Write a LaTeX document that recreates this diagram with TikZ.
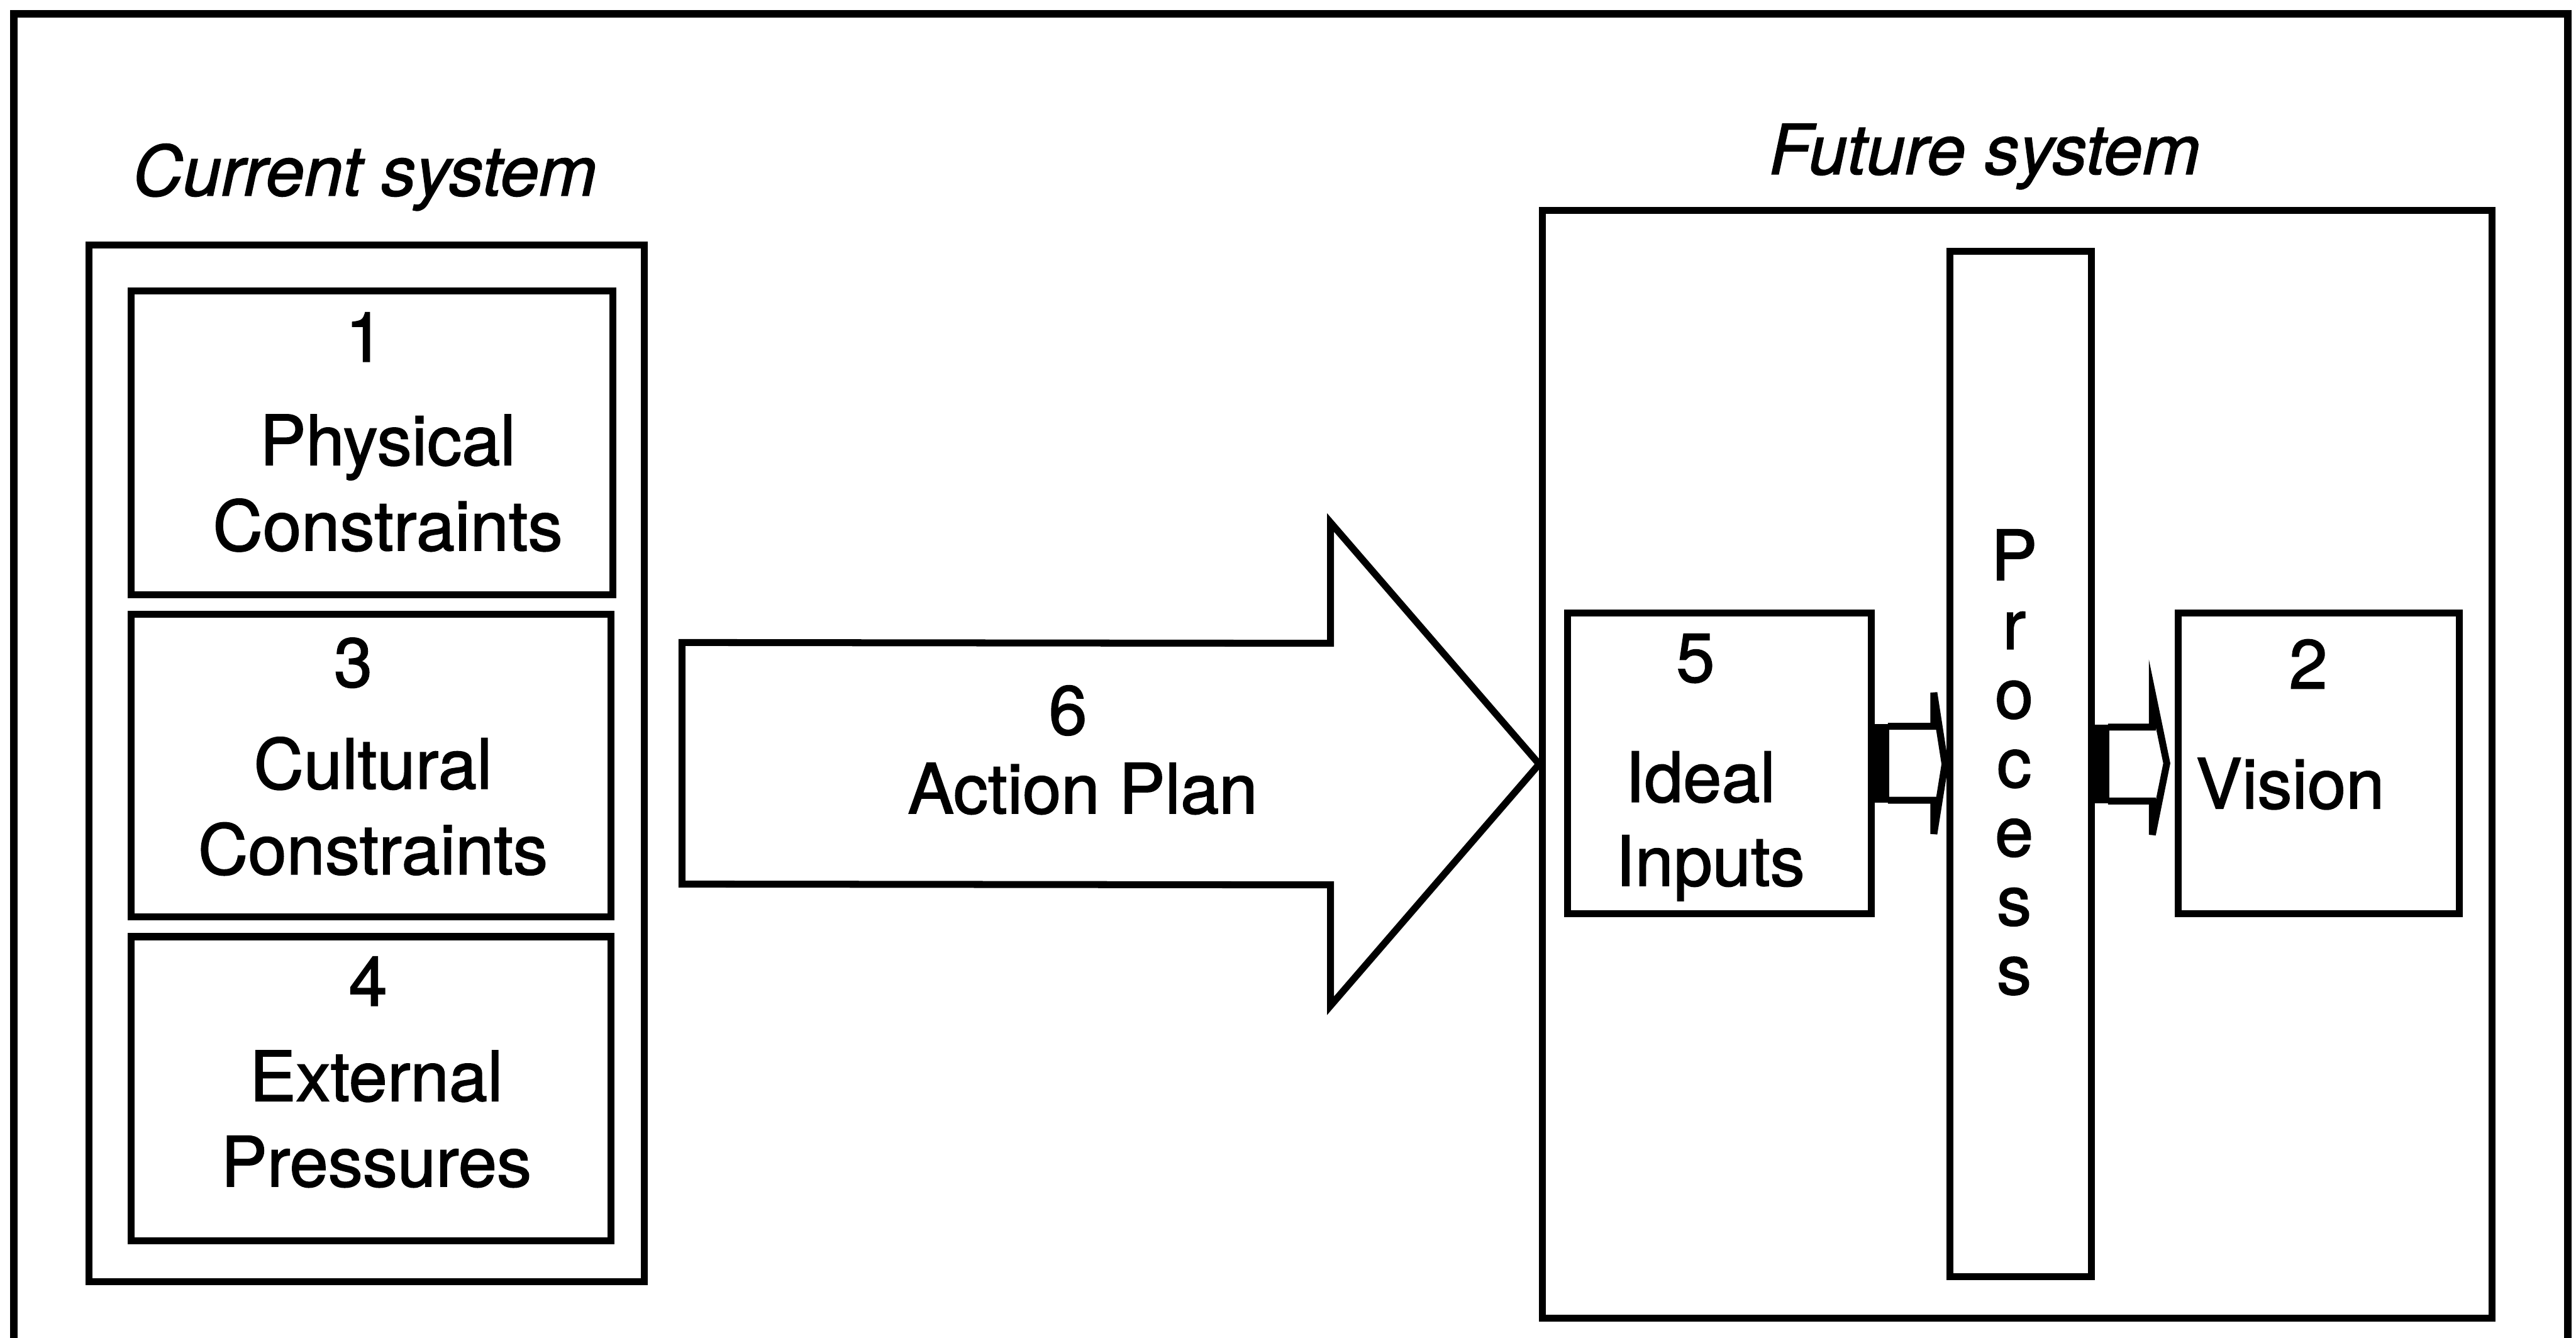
\documentclass[tikz,border=0pt]{standalone}
\usepackage{fontspec}
\setmainfont{TeX Gyre Heros}[FakeBold=1.5]
\usetikzlibrary{fit,calc}
\begin{document}
\begin{tikzpicture}[x=0.03cm,y=-0.03cm,
  frameline/.style={line width=4pt},
  box/.style={draw, line width=3.6pt, inner sep=0pt, rectangle},
  outline/.style={draw, line width=3.6pt, line join=miter, fill=white},
  lbl/.style={font=\fontsize{36}{44}\selectfont, anchor=base, inner sep=0pt},
  ttl/.style={font=\fontsize{36}{44}\selectfont\itshape, anchor=base, inner sep=0pt},
]
\useasboundingbox (0,0) rectangle (1568,814);

% outer frame (its bottom edge lies below the page)
\draw[frameline] (8.5,840) -- (8.5,8.5) -- (1563,8.5) -- (1563,840);

% ---------- current system ----------
\node[ttl] (curttl) at (222,119) {Current system};
\node[box, fit={(54,149) (392,780)}] (cur) {};

\node[box, fit={(80,177) (373,362)}] (b1) {};
\node[lbl] (b1n) at (222,220) {1};
\node[lbl] (b1a) at (236,283) {Physical};
\node[lbl] (b1b) at (236,335) {Constraints};

\node[box, fit={(80,374) (372,558)}] (b3) {};
\node[lbl] (b3n) at (215,418) {3};
\node[lbl] (b3a) at (227,480) {Cultural};
\node[lbl] (b3b) at (227,532) {Constraints};

\node[box, fit={(80,570) (372,755)}] (b4) {};
\node[lbl] (b4n) at (224,612) {4};
\node[lbl] (b4a) at (229,670) {External};
\node[lbl] (b4b) at (229,722) {Pressures};

% ---------- future system ----------
\node[ttl] (futttl) at (1208,106) {Future system};
\node[box, fit={(939,128) (1517,802)}] (fut) {};

\node[box, fit={(954,373) (1139,556)}] (ideal) {};
\node[lbl] (b5n) at (1032,415) {5};
\node[lbl] (b5a) at (1035,488) {Ideal};
\node[lbl] (b5b) at (1041,539) {Inputs};

\node[box, fit={(1187,153) (1273,777)}] (proc) {};
\foreach \ch [count=\i] in {P,r,o,c,e,s,s}
  \node[lbl] (proc\i) at (1226,{353+42*(\i-1)}) {\ch};

\node[box, fit={(1326,373) (1497,556)}] (vis) {};
\node[lbl] (b2n) at (1405,419) {2};
\node[lbl] (b2a) at (1394,492) {Vision};

% ---------- action plan arrow ----------
\draw[outline]
  ($(cur.east)+(21,-73.5)$) -- ($(fut.west)+(-127,-73.5)$)
  -- ($(fut.west)+(-127,-147)$) -- (fut.west)
  -- ($(fut.west)+(-127,147)$) -- ($(fut.west)+(-127,73.5)$)
  -- ($(cur.east)+(21,73.5)$) -- cycle;
\node[lbl] (b6n) at (650,447) {6};
\node[lbl] (b6a) at (659,495) {Action Plan};

% ---------- small block arrows ----------
\draw[outline]
  ($(ideal.east)+(8,-22.5)$) -- ($(ideal.east)+(36,-22.5)$)
  -- ($(ideal.east)+(36,-43)$) -- ($(proc.west)+(-1,0)$)
  -- ($(ideal.east)+(36,43)$) -- ($(ideal.east)+(36,22.5)$)
  -- ($(ideal.east)+(8,22.5)$);
\fill ($(ideal.east)+(-3,-24)$) rectangle ($(ideal.east)+(9,24)$);

\draw[outline]
  ($(proc.east)+(8,-22.5)$) -- ($(proc.east)+(35,-22.5)$)
  -- ($(proc.east)+(35,-43)$) -- ($(vis.west)+(-5,0)$)
  -- ($(proc.east)+(35,43)$) -- ($(proc.east)+(35,22.5)$)
  -- ($(proc.east)+(8,22.5)$);
\fill ($(proc.east)+(-3,-24)$) rectangle ($(proc.east)+(9,24)$);
\end{tikzpicture}
\end{document}
